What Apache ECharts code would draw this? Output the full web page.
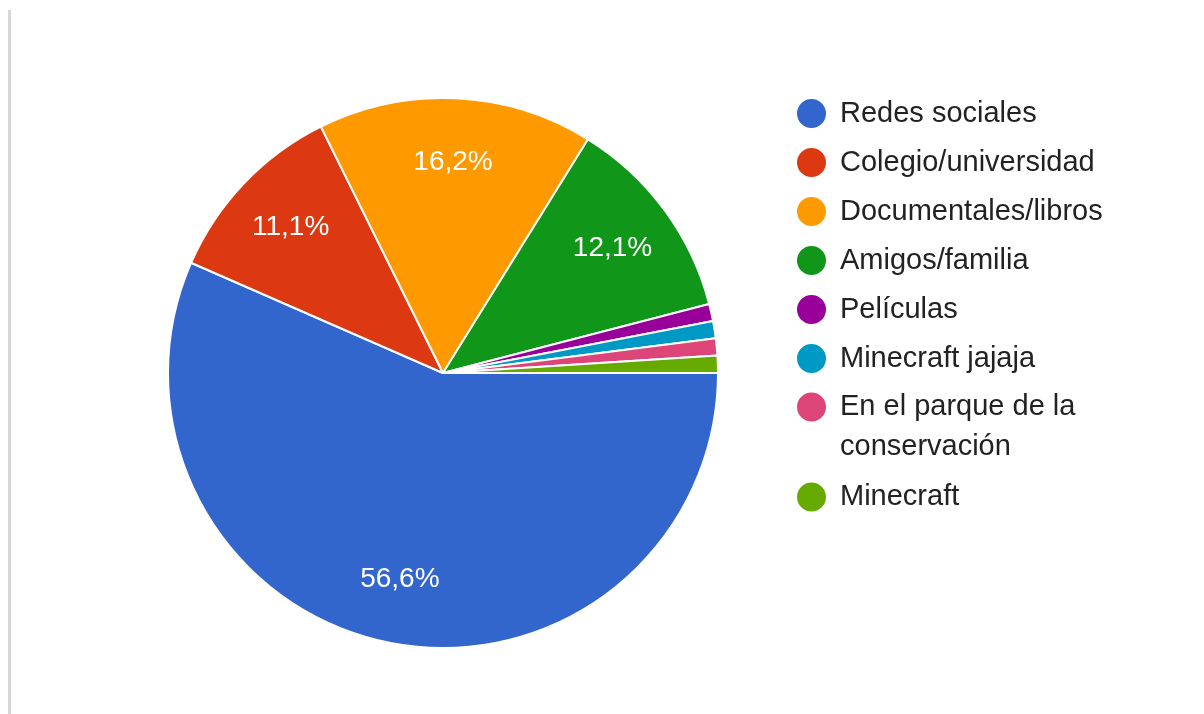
<!DOCTYPE html>
<html>
<head>
<meta charset="utf-8">
<script src="https://cdn.jsdelivr.net/npm/echarts@6/dist/echarts.min.js"></script>
<style>
    html, body { margin: 0; padding: 0; background: #fff; }
    #side { position: absolute; left: 8px; top: 10px; width: 3px; height: 704px; background: #d6d6d6; }
    #main { width: 1204px; height: 714px; }
</style>
</head>
<body>
<div id="side"></div>
<div id="main"></div>
<script>
// respuestas por fuente
var categories = ['Redes sociales', 'Colegio/universidad', 'Documentales/libros', 'Amigos/familia',
    'Películas', 'Minecraft jajaja', 'En el parque de la conservación', 'Minecraft'];
var values = [56, 11, 16, 12, 1, 1, 1, 1];
var colors = ['#3366cc', '#dc3912', '#ff9900', '#109618', '#990099', '#0099c6', '#dd4477', '#66aa00'];

var chart = echarts.init(document.getElementById('main'));

var pieData = categories.map(function (name, i) {
    return { name: name, value: values[i] };
});

var legendBase = {
    orient: 'vertical',
    left: 795,
    padding: 0,
    icon: 'circle',
    itemWidth: 31,
    itemHeight: 31,
    itemGap: 16,
    selectedMode: false,
    textStyle: {
        fontFamily: 'Liberation Sans',
        fontSize: 29,
        color: '#222',
        lineHeight: 31,
        padding: [0, 0, 0, 8]
    }
};

var option = {
    color: colors,
    animation: false,
    legend: [
        Object.assign({}, legendBase, { top: 97, data: categories.slice(0, 6) }),
        Object.assign({}, legendBase, {
            top: 347,
            data: [categories[6]],
            // linea vacia arriba para que el icono quede en la primera linea
            formatter: function () { return '\nEn el parque de la\nconservación'; },
            textStyle: Object.assign({}, legendBase.textStyle, { lineHeight: 40 })
        }),
        Object.assign({}, legendBase, { top: 480.5, data: [categories[7]] })
    ],
    series: [
        {
            name: 'fuente',
            type: 'pie',
            center: [443, 373],
            radius: [0, 275],
            startAngle: 0,
            clockwise: true,
            data: pieData,
            itemStyle: { borderColor: '#fff', borderWidth: 2 },
            label: { show: false },
            labelLine: { show: false },
            emphasis: { disabled: true }
        },
        {
            // solo etiquetas, a ~3/4 del radio
            name: 'etiquetas',
            type: 'pie',
            center: [443, 373],
            radius: [140, 275],
            startAngle: 0,
            clockwise: true,
            silent: true,
            data: pieData,
            itemStyle: { color: 'rgba(0,0,0,0)' },
            minShowLabelAngle: 8,
            label: {
                show: true,
                position: 'inside',
                color: '#fff',
                fontFamily: 'Liberation Sans',
                fontSize: 28,
                formatter: function (p) {
                    return p.percent.toFixed(1).replace('.', ',') + '%';
                }
            },
            labelLine: { show: false },
            emphasis: { disabled: true }
        }
    ]
};
chart.setOption(option);
</script>
</body>
</html>
